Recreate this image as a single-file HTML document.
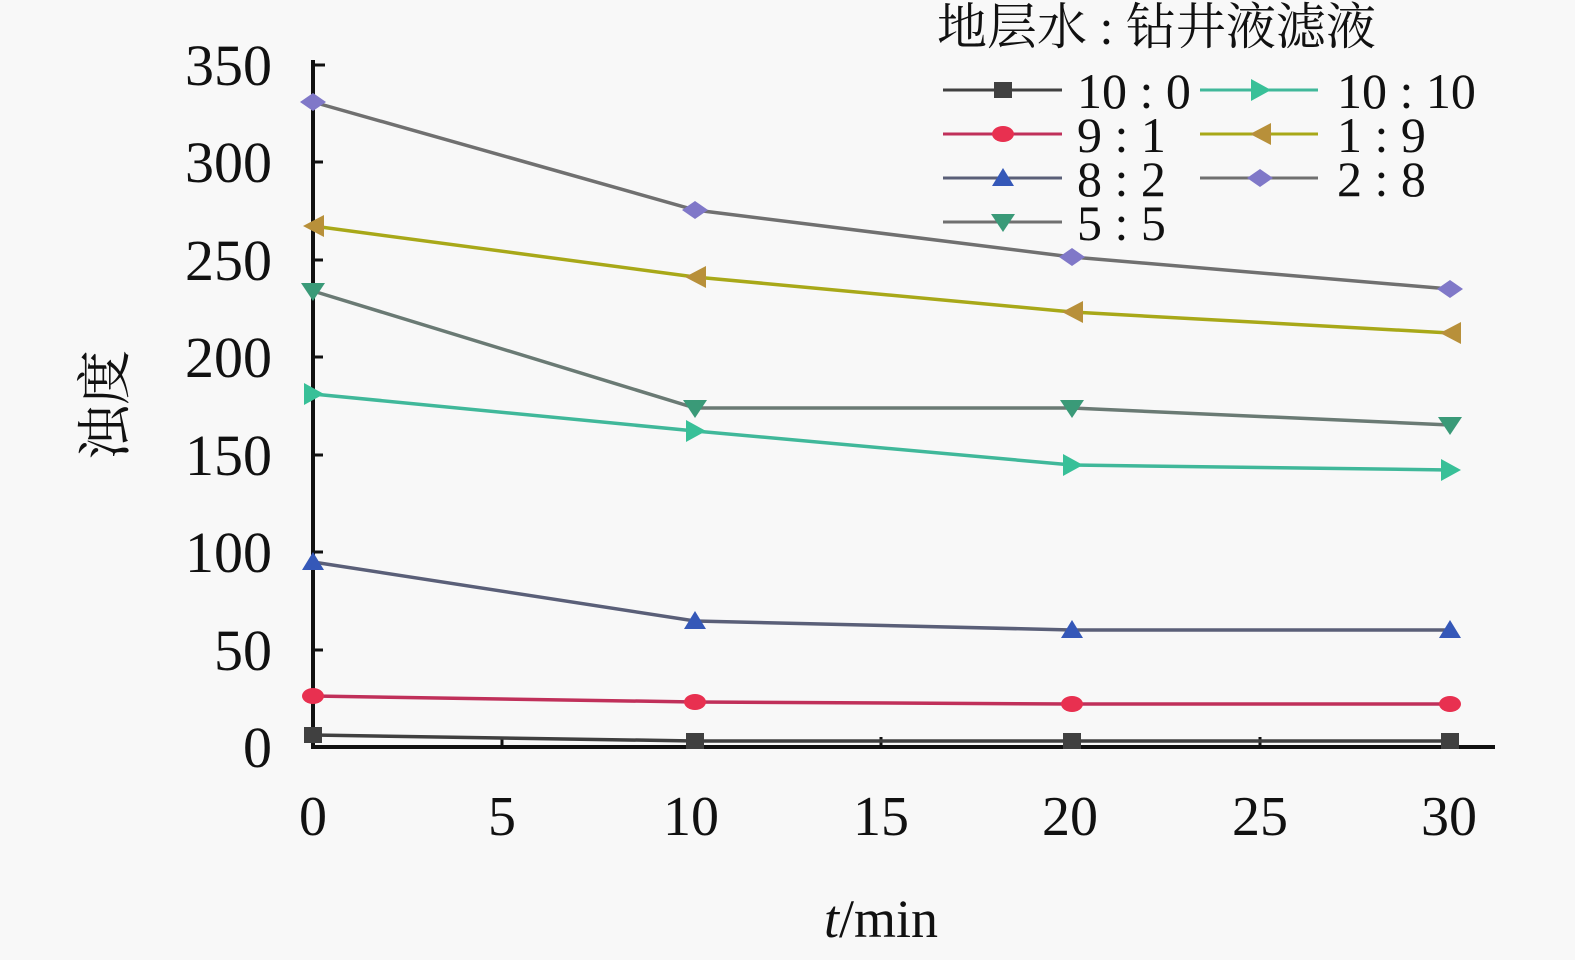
<!DOCTYPE html>
<html><head><meta charset="utf-8"><style>
html,body{margin:0;padding:0;background:#f8f8f8;}
svg{display:block;}
text{font-family:"Liberation Serif","Noto Serif CJK SC",serif;fill:#111;}
</style></head><body>
<svg width="1575" height="960" viewBox="0 0 1575 960" xmlns="http://www.w3.org/2000/svg">
<rect width="1575" height="960" fill="#f8f8f8"/>
<defs>
<rect id="sq" x="-9" y="-8" width="18" height="16" fill="#404040"/>
<ellipse id="ci" rx="11" ry="8" fill="#e83050"/>
<polygon id="tu" points="0,-10 11,8 -11,8" fill="#3558b8"/>
<polygon id="td" points="-12,-8 12,-8 0,10" fill="#3a9a78"/>
<polygon id="tr" points="-9,-11 11,0 -9,11" fill="#38c098"/>
<polygon id="tl" points="11,-11 -10,0 11,11" fill="#b8903a"/>
<polygon id="di" points="0,-9 13,0 0,9 -13,0" fill="#8078c8"/>
</defs>
<line x1="313" y1="60" x2="313" y2="749" stroke="#111" stroke-width="4"/>
<line x1="311" y1="747" x2="1495" y2="747" stroke="#111" stroke-width="4"/>
<g stroke="#111" stroke-width="3">
<line x1="313" y1="65" x2="325" y2="65"/><line x1="313" y1="162" x2="323" y2="162"/><line x1="313" y1="260" x2="323" y2="260"/><line x1="313" y1="357" x2="323" y2="357"/><line x1="313" y1="455" x2="323" y2="455"/><line x1="313" y1="552" x2="323" y2="552"/><line x1="313" y1="650" x2="323" y2="650"/>
<line x1="502" y1="737" x2="502" y2="747"/><line x1="691" y1="737" x2="691" y2="747"/><line x1="881" y1="737" x2="881" y2="747"/><line x1="1070" y1="737" x2="1070" y2="747"/><line x1="1260" y1="737" x2="1260" y2="747"/><line x1="1449" y1="737" x2="1449" y2="747"/>
</g>
<g font-size="58" text-anchor="end">
<text x="272" y="85">350</text><text x="272" y="182">300</text><text x="272" y="280">250</text><text x="272" y="377">200</text><text x="272" y="475">150</text><text x="272" y="572">100</text><text x="272" y="670">50</text><text x="272" y="767">0</text>
</g>
<g font-size="56" text-anchor="middle">
<text x="313" y="835">0</text><text x="502" y="835">5</text><text x="691" y="835">10</text><text x="881" y="835">15</text><text x="1070" y="835">20</text><text x="1260" y="835">25</text><text x="1449" y="835">30</text>
</g>
<text x="881" y="937" font-size="54" text-anchor="middle"><tspan font-style="italic">t</tspan>/min</text>
<text x="0" y="0" font-size="55" text-anchor="middle" transform="translate(124,405) rotate(-90)">浊度</text>
<g fill="none" stroke-width="3.5">
<polyline points="313,102 695,210 1072,257 1450,289" stroke="#707070"/>
<polyline points="313,226 695,277 1072,312 1450,333" stroke="#a8a818"/>
<polyline points="313,291 695,408 1072,408 1450,425" stroke="#6a7a74"/>
<polyline points="313,394 695,431 1072,465 1450,470" stroke="#40b89a"/>
<polyline points="313,562 695,621 1072,630 1450,630" stroke="#5a5f78"/>
<polyline points="313,696 695,702 1072,704 1450,704" stroke="#c0305a"/>
<polyline points="313,735 695,741 1072,741 1450,741" stroke="#404040"/>
</g>
<g>
<use href="#di" x="313" y="102"/><use href="#di" x="695" y="210"/><use href="#di" x="1072" y="257"/><use href="#di" x="1450" y="289"/>
<use href="#tl" x="313" y="226"/><use href="#tl" x="695" y="277"/><use href="#tl" x="1072" y="312"/><use href="#tl" x="1450" y="333"/>
<use href="#td" x="313" y="291"/><use href="#td" x="695" y="408"/><use href="#td" x="1072" y="408"/><use href="#td" x="1450" y="425"/>
<use href="#tr" x="313" y="394"/><use href="#tr" x="695" y="431"/><use href="#tr" x="1072" y="465"/><use href="#tr" x="1450" y="470"/>
<use href="#tu" x="313" y="562"/><use href="#tu" x="695" y="621"/><use href="#tu" x="1072" y="630"/><use href="#tu" x="1450" y="630"/>
<use href="#ci" x="313" y="696"/><use href="#ci" x="695" y="702"/><use href="#ci" x="1072" y="704"/><use href="#ci" x="1450" y="704"/>
<use href="#sq" x="313" y="735"/><use href="#sq" x="695" y="741"/><use href="#sq" x="1072" y="741"/><use href="#sq" x="1450" y="741"/>
</g>
<text x="937" y="44" font-size="50">地层水 : 钻井液滤液</text>
<g stroke-width="3">
<line x1="943" y1="90" x2="1062" y2="90" stroke="#404040"/>
<line x1="943" y1="134" x2="1062" y2="134" stroke="#c0305a"/>
<line x1="943" y1="178" x2="1062" y2="178" stroke="#5a5f78"/>
<line x1="943" y1="222" x2="1062" y2="222" stroke="#707070"/>
<line x1="1200" y1="90" x2="1318" y2="90" stroke="#40b89a"/>
<line x1="1200" y1="134" x2="1318" y2="134" stroke="#a8a818"/>
<line x1="1200" y1="178" x2="1318" y2="178" stroke="#707070"/>
</g>
<use href="#sq" x="1003" y="90"/><use href="#ci" x="1003" y="134"/><use href="#tu" x="1003" y="178"/><use href="#td" x="1003" y="222"/>
<use href="#tr" x="1260" y="90"/><use href="#tl" x="1260" y="134"/><use href="#di" x="1260" y="178"/>
<g font-size="50">
<text x="1077" y="108">10 : 0</text><text x="1077" y="152">9 : 1</text><text x="1077" y="196">8 : 2</text><text x="1077" y="240">5 : 5</text>
<text x="1337" y="108">10 : 10</text><text x="1337" y="152">1 : 9</text><text x="1337" y="196">2 : 8</text>
</g>
</svg>
</body></html>
